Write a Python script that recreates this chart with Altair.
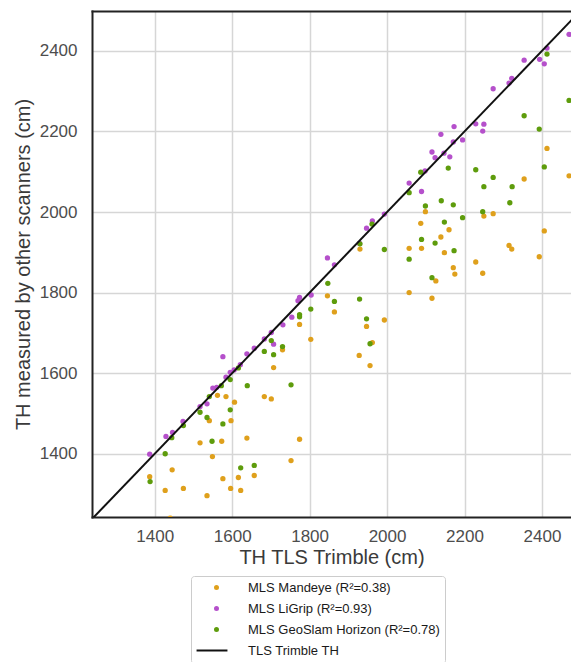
import altair as alt
import pandas as pd

# ---- data ----
series_names = [
    "MLS Mandeye (R\u00b2=0.38)",
    "MLS LiGrip (R\u00b2=0.93)",
    "MLS GeoSlam Horizon (R\u00b2=0.78)",
    "TLS Trimble TH",
]
series_colors = ["#DFA01C", "#B550CB", "#5E9C0C", "#111111"]

mandeye_x = [1387, 1427, 1440, 1445, 1474, 1517, 1535, 1541, 1549, 1562, 1573, 1576, 1584, 1596, 1597,
             1606, 1616, 1622, 1638, 1657, 1683, 1701, 1707, 1730, 1752, 1774, 1774, 1803, 1846, 1864,
             1928, 1930, 1947, 1956, 1962, 1993, 2057, 2057, 2087, 2089, 2099, 2116, 2126, 2139, 2148,
             2160, 2171, 2175, 2229, 2247, 2250, 2274, 2315, 2322, 2354, 2393, 2406, 2413, 2470, 2498]
mandeye_y = [1343, 1309, 1240, 1360, 1314, 1427, 1296, 1482, 1393, 1545, 1431, 1338, 1542, 1314, 1482,
             1528, 1341, 1309, 1439, 1346, 1542, 1536, 1614, 1658, 1383, 1436, 1721, 1684, 1792, 1752,
             1644, 1908, 1716, 1619, 1676, 1732, 1800, 1910, 1972, 1910, 2001, 1786, 1829, 1938, 1899,
             1956, 1862, 1846, 1876, 1848, 1990, 1996, 1917, 1908, 2082, 1889, 1953, 2158, 2090, 2125]

ligrip_x = [1387, 1429, 1446, 1473, 1517, 1535, 1550, 1560, 1576, 1584, 1595, 1605, 1621, 1638, 1657,
            1683, 1701, 1707, 1731, 1754, 1770, 1774, 1804, 1846, 1864, 1929, 1947, 1962, 1993, 2057,
            2089, 2098, 2116, 2124, 2139, 2147, 2162, 2171, 2173, 2195, 2229, 2247, 2250, 2274, 2315,
            2322, 2354, 2394, 2406, 2413, 2470, 2498]
ligrip_y = [1399, 1443, 1453, 1480, 1517, 1524, 1563, 1565, 1641, 1590, 1602, 1608, 1621, 1648, 1662,
            1685, 1701, 1672, 1720, 1739, 1780, 1788, 1794, 1886, 1869, 1922, 1960, 1978, 1995, 2072,
            2051, 2102, 2149, 2135, 2193, 2146, 2137, 2174, 2212, 2179, 2219, 2201, 2218, 2306, 2320,
            2332, 2377, 2379, 2368, 2407, 2441, 2452]

geoslam_x = [1388, 1427, 1444, 1474, 1517, 1535, 1541, 1548, 1572, 1576, 1595, 1595, 1616, 1622, 1639,
             1657, 1683, 1701, 1707, 1730, 1752, 1774, 1774, 1803, 1847, 1864, 1929, 1930, 1947, 1956,
             1961, 1993, 2057, 2057, 2087, 2089, 2099, 2116, 2124, 2140, 2148, 2158, 2171, 2173, 2195,
             2229, 2247, 2250, 2274, 2317, 2323, 2354, 2393, 2406, 2413, 2470, 2498]
geoslam_y = [1331, 1400, 1440, 1470, 1503, 1490, 1542, 1431, 1569, 1474, 1584, 1509, 1613, 1365, 1569,
             1371, 1654, 1681, 1646, 1666, 1571, 1745, 1740, 1759, 1823, 1778, 1784, 1921, 1735, 1673,
             1970, 1907, 1883, 2048, 2099, 1932, 2015, 1837, 1923, 2028, 1975, 2109, 2018, 1904, 1986,
             2105, 2001, 2063, 2086, 2023, 2063, 2239, 2206, 2112, 2392, 2277, 2184]

one_to_one = [1230, 2510]          # TLS reference line y = x
tick_values = [1400, 1600, 1800, 2000, 2200, 2400]
x_domain = [1238, 2475]            # the reference is cut off at its right edge
y_domain = [1243, 2499]

# ---- tables ----
rows = []
for name, xs, ys in [(series_names[0], mandeye_x, mandeye_y),
                     (series_names[1], ligrip_x, ligrip_y),
                     (series_names[2], geoslam_x, geoslam_y)]:
    for a, b in zip(xs, ys):
        rows.append({"tls": a, "other": b, "series": name})
pts = pd.DataFrame(rows)
line_df = pd.DataFrame({"tls": one_to_one, "other": one_to_one,
                        "series": [series_names[3]] * len(one_to_one)})

symbol_shapes = ["circle", "circle", "circle", "M-13.3,0L7.3,0"]

xscale = alt.Scale(domain=x_domain, nice=False, zero=False)
yscale = alt.Scale(domain=y_domain, nice=False, zero=False)
frame = dict(domain=True, domainColor="#222222", domainWidth=2, domainCap="square")

x_bottom = alt.X("tls:Q", scale=xscale,
                 axis=alt.Axis(values=tick_values, format="d", title="TH TLS Trimble (cm)",
                               labelPadding=11, titlePadding=3, **frame))
x_top = alt.X("tls:Q", scale=xscale,
              axis=alt.Axis(orient="top", labels=False, grid=False, title=None, **frame))
y_left = alt.Y("other:Q", scale=yscale,
               axis=alt.Axis(values=tick_values, format="d",
                             title="TH measured by other scanners (cm)",
                             labelPadding=15, titlePadding=6, **frame))

leg = alt.Legend(orient="none", legendX=99, legendY=565, title=None,
                 padding=5, strokeColor="#cccccc", cornerRadius=3, fillColor="white",
                 rowPadding=7, symbolSize=9, symbolStrokeWidth=2, symbolOffset=14,
                 labelOffset=25, labelLimit=400, labelFontSize=13,
                 labelFont="Liberation Sans", labelColor="#1a1a1a")

points = alt.Chart(pts).mark_point(filled=True, size=28, opacity=1, clip=True).encode(
    x=x_bottom, y=y_left,
    fill=alt.Fill("series:N", scale=alt.Scale(domain=series_names, range=series_colors), legend=leg),
    shape=alt.Shape("series:N", scale=alt.Scale(domain=series_names, range=symbol_shapes), legend=leg),
)
line = alt.Chart(line_df).mark_line(strokeWidth=2, clip=True).encode(
    x=x_top, y=y_left,
    stroke=alt.Stroke("series:N", scale=alt.Scale(domain=series_names, range=series_colors), legend=leg),
)

chart = alt.layer(points, line).resolve_axis(x="independent").properties(
    width=479, height=506,
    autosize=alt.AutoSizeParams(type="none"),
    padding={"left": 84, "top": 3, "right": 0, "bottom": 145},
).configure_view(
    stroke=None
).configure_axis(
    gridColor="#d6d6d6", gridWidth=1.5, ticks=False,
    labelFont="Liberation Sans", labelFontSize=17, labelColor="#4d4d4d",
    titleFont="Liberation Sans", titleFontSize=20, titleColor="#3a3a3a",
    titleFontWeight="normal",
)

chart.save("out.html", embed_options={"renderer": "svg", "actions": False})
